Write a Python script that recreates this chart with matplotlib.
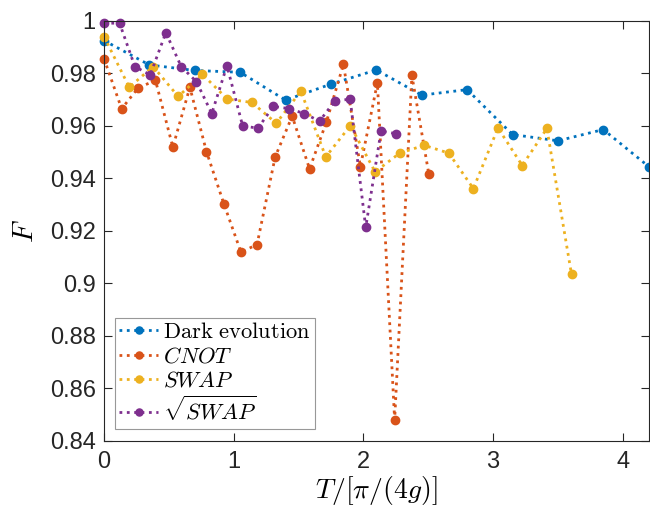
#!/usr/bin/env python3
"""Fidelity vs. gate time for the dark evolution and the three gates."""

import matplotlib
matplotlib.use("Agg")
import matplotlib.pyplot as plt

# Dark evolution
dark_t = [0.00, 0.35, 0.70, 1.05, 1.40, 1.75, 2.10, 2.45, 2.80, 3.15, 3.50, 3.85, 4.20]
dark_f = [0.9925, 0.9832, 0.9811, 0.9804, 0.9698, 0.9759, 0.9813, 0.9717, 0.9738,
          0.9567, 0.9543, 0.9586, 0.9445]

# CNOT
cnot_t = [0.000, 0.136, 0.264, 0.397, 0.531, 0.662, 0.790, 0.925, 1.056, 1.180,
          1.320, 1.451, 1.585, 1.715, 1.846, 1.977, 2.108, 2.241, 2.374, 2.505]
cnot_f = [0.9856, 0.9665, 0.9745, 0.9773, 0.9519, 0.9747, 0.9502, 0.9302, 0.9119, 0.9148,
          0.9482, 0.9637, 0.9436, 0.9615, 0.9834, 0.9445, 0.9764, 0.8480, 0.9792, 0.9415]

# SWAP
swap_t = [0.000, 0.195, 0.379, 0.572, 0.759, 0.951, 1.141, 1.328, 1.518, 1.710,
          1.900, 2.090, 2.280, 2.469, 2.659, 2.848, 3.038, 3.225, 3.415, 3.605]
swap_f = [0.9940, 0.9747, 0.9826, 0.9712, 0.9796, 0.9702, 0.9689, 0.9610, 0.9732, 0.9482,
          0.9601, 0.9425, 0.9496, 0.9526, 0.9496, 0.9361, 0.9592, 0.9449, 0.9590, 0.9034]

# sqrt(SWAP)
sqsw_t = [0.000, 0.120, 0.238, 0.356, 0.477, 0.595, 0.713, 0.831, 0.948, 1.069,
          1.187, 1.305, 1.423, 1.544, 1.662, 1.779, 1.898, 2.018, 2.136, 2.254]
sqsw_f = [0.9991, 0.9991, 0.9826, 0.9794, 0.9955, 0.9826, 0.9768, 0.9647, 0.9829, 0.9600,
          0.9591, 0.9674, 0.9666, 0.9647, 0.9618, 0.9694, 0.9702, 0.9213, 0.9580, 0.9570]

x_ticks = [0, 1, 2, 3, 4]
y_ticks = [0.84, 0.86, 0.88, 0.90, 0.92, 0.94, 0.96, 0.98, 1.00]
y_labels = ["0.84", "0.86", "0.88", "0.9", "0.92", "0.94", "0.96", "0.98", "1"]

SERIES = [
    (dark_t, dark_f, r"$\mathrm{Dark\ evolution}$", "#0072BD"),
    (cnot_t, cnot_f, r"$CNOT$", "#D95319"),
    (swap_t, swap_f, r"$SWAP$", "#EDB120"),
    (sqsw_t, sqsw_f, r"$\sqrt{SWAP}$", "#7E2F8E"),
]

plt.rcParams["font.family"] = ["Liberation Sans", "DejaVu Sans"]
plt.rcParams["mathtext.fontset"] = "cm"

fig = plt.figure(figsize=(6.5, 5.08), dpi=100)
ax = fig.add_axes([0.16, 0.132, 0.838, 0.827])

for t, f, label, color in SERIES:
    ax.plot(t, f, linestyle=":", linewidth=2.0, marker="o", markersize=6,
            color=color, label=label, clip_on=False)

ax.set_xlim(0, 4.2)
ax.set_ylim(0.84, 1.0)
ax.set_xticks(x_ticks)
ax.set_xticklabels([str(v) for v in x_ticks])
ax.set_yticks(y_ticks)
ax.set_yticklabels(y_labels)
ax.tick_params(direction="in", top=True, right=True, labelsize=17,
               length=6, width=0.8, colors="#262626")
ax.tick_params(axis="x", pad=7)
ax.tick_params(axis="y", pad=6)
for sp in ax.spines.values():
    sp.set_color("#262626")
    sp.set_linewidth(0.8)

ax.set_xlabel(r"$T/[\pi/(4g)]$", fontsize=20, labelpad=1)
ax.set_ylabel(r"$F$", fontsize=21, labelpad=8)

leg = ax.legend(loc="lower left", bbox_to_anchor=(0.020, 0.028), fontsize=16.2,
                frameon=True, fancybox=False, edgecolor="#7f7f7f",
                handlelength=1.7, handletextpad=0.25, borderpad=0.2,
                labelspacing=0.15, borderaxespad=0, markerscale=0.85)
leg.get_frame().set_linewidth(0.8)

fig.savefig("out.png", dpi=100)
